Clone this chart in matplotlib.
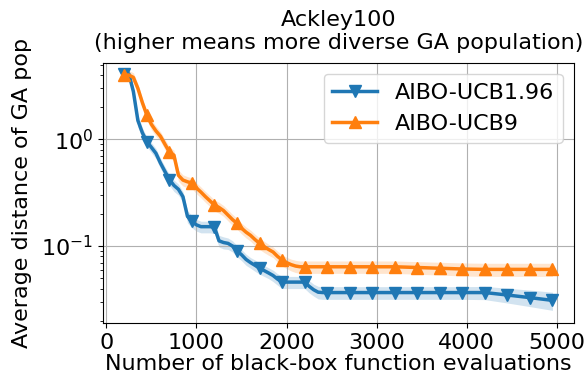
import numpy as np
from matplotlib import pyplot as plt

# evaluation counts: every 50 up to 2450, then every 250
evals = list(range(200, 2500, 50)) + list(range(2700, 5000, 250))

ucb196_mean = [4.1, 4.1, 2.8, 1.5, 1.15, 0.95, 0.84, 0.74, 0.6, 0.5,
               0.42, 0.37, 0.34, 0.29, 0.19, 0.17, 0.158, 0.152, 0.152, 0.152,
               0.15, 0.112, 0.108, 0.106, 0.1, 0.09, 0.083, 0.075, 0.07, 0.066,
               0.062, 0.059, 0.056, 0.053, 0.049, 0.046, 0.046, 0.046, 0.046, 0.046,
               0.046, 0.042, 0.039, 0.037, 0.0367, 0.0367,
               0.0367, 0.0367, 0.0367, 0.0367, 0.0367, 0.0367, 0.0367, 0.0348, 0.0329, 0.031]
ucb196_std = [0.3, 0.3, 0.3, 0.2, 0.13, 0.1, 0.09, 0.08, 0.065, 0.055,
              0.05, 0.045, 0.04, 0.033, 0.025, 0.022, 0.02, 0.019, 0.019, 0.019,
              0.019, 0.014, 0.014, 0.013, 0.012, 0.011, 0.01, 0.009, 0.008, 0.008,
              0.0075, 0.007, 0.0065, 0.0065, 0.006, 0.006, 0.006, 0.006, 0.006, 0.006,
              0.006, 0.0055, 0.005, 0.005, 0.005, 0.005,
              0.005, 0.005, 0.005, 0.005, 0.005, 0.005, 0.0052, 0.0055, 0.0058, 0.006]

ucb9_mean = [4.0, 4.0, 3.8, 3.0, 2.2, 1.68, 1.38, 1.2, 1.07, 0.9,
             0.76, 0.71, 0.46, 0.415, 0.4, 0.39, 0.35, 0.32, 0.29, 0.265,
             0.242, 0.23, 0.215, 0.195, 0.177, 0.163, 0.147, 0.135, 0.126, 0.115,
             0.106, 0.099, 0.093, 0.088, 0.08, 0.074, 0.07, 0.067, 0.065, 0.064,
             0.064, 0.064, 0.064, 0.064, 0.064, 0.064,
             0.064, 0.064, 0.064, 0.063, 0.062, 0.061, 0.0605, 0.0605, 0.0605, 0.0605]
ucb9_std = [0.4, 0.4, 0.4, 0.3, 0.22, 0.17, 0.15, 0.13, 0.11, 0.1,
            0.09, 0.08, 0.055, 0.05, 0.047, 0.045, 0.041, 0.037, 0.034, 0.031,
            0.029, 0.027, 0.025, 0.023, 0.021, 0.019, 0.017, 0.016, 0.015, 0.014,
            0.013, 0.012, 0.011, 0.01, 0.0095, 0.009, 0.0085, 0.0085, 0.0085, 0.0085,
            0.0085, 0.0085, 0.0085, 0.0085, 0.0085, 0.0085,
            0.0085, 0.0085, 0.0085, 0.0085, 0.0085, 0.0085, 0.0085, 0.0085, 0.0085, 0.0085]

series = [
    ("AIBO-UCB1.96", ucb196_mean, ucb196_std, "v", "tab:blue"),
    ("AIBO-UCB9", ucb9_mean, ucb9_std, "^", "tab:orange"),
]

plt.rcParams['font.size'] = 16

fig, ax = plt.subplots(figsize=(5.85, 3.81), dpi=100)
fig.subplots_adjust(left=0.176, right=0.981, top=0.835, bottom=0.152)

x = np.array(evals)
marks = [i for i, e in enumerate(evals) if (e - 200) % 250 == 0]
for label, mean, std, marker, color in series:
    m = np.array(mean)
    s = np.array(std)
    ax.plot(x, m, marker=marker, markevery=marks, color=color,
            lw=2.5, markersize=9, label=label)
    ax.fill_between(x, m - s, m + s, color=color, alpha=0.2, lw=0)

ax.set_yscale('log')
ax.set_ylim(0.019, 5.2)
ax.grid(True)
ax.set_title("Ackley100\n(higher means more diverse GA population)",
             fontsize=16, pad=10)
ax.set_xlabel("Number of black-box function evaluations", labelpad=1)
ax.set_ylabel("Average distance of GA pop", labelpad=7)
ax.legend(loc='upper right')

fig.savefig("out.png", dpi=100)
